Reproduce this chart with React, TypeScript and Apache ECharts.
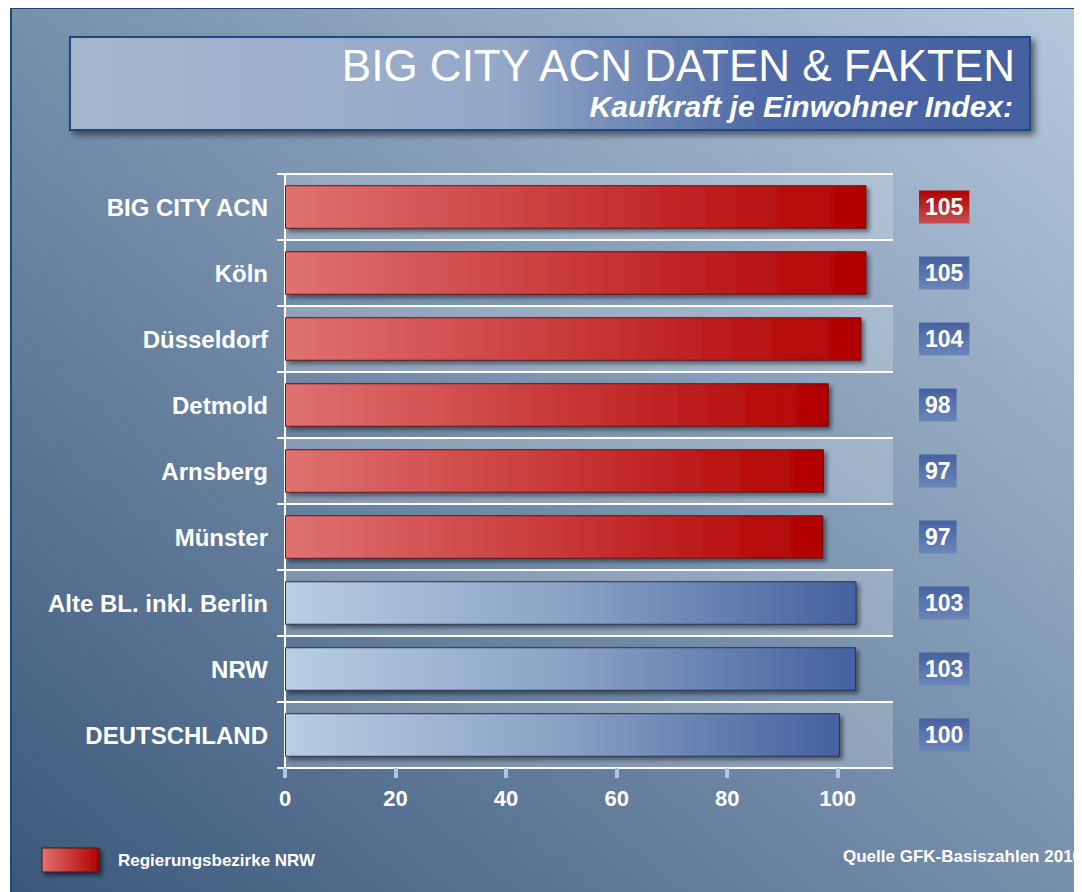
import React, { useEffect, useRef } from "react";
import * as echarts from "echarts";

const categories = [
  "BIG CITY ACN",
  "Köln",
  "Düsseldorf",
  "Detmold",
  "Arnsberg",
  "Münster",
  "Alte BL. inkl. Berlin",
  "NRW",
  "DEUTSCHLAND",
];
const values = [105.2, 105.2, 104.3, 98.4, 97.5, 97.4, 103.4, 103.3, 100.4];
const labels = [105, 105, 104, 98, 97, 97, 103, 103, 100];
const isNRW = [true, true, true, true, true, true, false, false, false];
const highlight = [true, false, false, false, false, false, false, false, false];
const xTicks = [0, 20, 40, 60, 80, 100];

const FONT = "'Liberation Sans', Arial, sans-serif";

export default function App() {
  const ref = useRef<HTMLDivElement>(null);
  useEffect(() => {
    if (!ref.current) return;
    const chart = echarts.init(ref.current, undefined, { renderer: "svg" });
    const LG = echarts.graphic.LinearGradient;
    const redBar = () =>
      new LG(0, 0, 1, 0, [
        { offset: 0, color: "#e07272" },
        { offset: 1, color: "#b10000" },
      ]);
    const blueBar = () =>
      new LG(0, 0, 1, 0, [
        { offset: 0, color: "#b9cde2" },
        { offset: 0.5, color: "#8aa1c5" },
        { offset: 1, color: "#4561a0" },
      ]);
    const redBox = () =>
      new LG(0, 0, 0, 1, [
        { offset: 0, color: "#b00000" },
        { offset: 1, color: "#c85050" },
      ]);
    const blueBox = () =>
      new LG(0, 0, 0, 1, [
        { offset: 0, color: "#4761a0" },
        { offset: 1, color: "#6b86ba" },
      ]);

    const data = values.map((v, i) => ({
      value: v,
      itemStyle: {
        color: isNRW[i] ? redBar() : blueBar(),
        borderColor: isNRW[i] ? "#5a1a1a" : "#2a3550",
      },
      label: {
        backgroundColor: highlight[i] ? redBox() : blueBox(),
      },
    }));

    chart.setOption({
      animation: false,
      backgroundColor: new LG(0, 1, 1, 0, [
        { offset: 0, color: "#3b587b" },
        { offset: 0.5, color: "#7890ac" },
        { offset: 1, color: "#b6c8dc" },
      ]),
      grid: { left: 275, right: 189, top: 167, bottom: 124, containLabel: false },
      xAxis: {
        type: "value",
        min: 0,
        max: 110,
        interval: 20,
        axisLine: { show: false },
        splitLine: { show: false },
        axisTick: {
          show: true,
          length: 10,
          customValues: xTicks,
          lineStyle: { color: "#a9c8f0", width: 4 },
        },
        axisLabel: {
          customValues: xTicks,
          color: "#ffffff",
          fontSize: 22,
          fontWeight: "bold",
          fontFamily: FONT,
          margin: 19,
        },
      },
      yAxis: {
        type: "category",
        data: categories,
        inverse: true,
        axisLine: { show: true, lineStyle: { color: "#ffffff", width: 2 } },
        axisTick: { show: true, length: 8, lineStyle: { color: "#ffffff", width: 2 } },
        splitLine: { show: true, lineStyle: { color: "#ffffff", width: 2 } },
        splitArea: {
          show: true,
          areaStyle: { color: ["rgba(255,255,255,0.2)", "rgba(255,255,255,0)"] },
        },
        axisLabel: {
          color: "#ffffff",
          fontSize: 24,
          fontWeight: "bold",
          fontFamily: FONT,
          margin: 17,
        },
      },
      series: [
        {
          type: "bar",
          data,
          barWidth: "66%",
          itemStyle: {
            borderWidth: 1,
            shadowColor: "rgba(0,0,0,0.45)",
            shadowBlur: 4,
            shadowOffsetX: 3,
            shadowOffsetY: 3,
          },
          label: {
            show: true,
            position: [634, "50%"],
            align: "left",
            verticalAlign: "middle",
            formatter: (p: any) => String(labels[p.dataIndex]),
            color: "#ffffff",
            fontSize: 23,
            fontWeight: "bold",
            fontFamily: FONT,
            padding: [6, 6, 4, 6],
          },
        },
      ],
      graphic: [
        {
          type: "line",
          shape: { x1: 1, y1: 0, x2: 1, y2: 885 },
          style: { stroke: "#1d4777", lineWidth: 2 },
          z: 100,
        },
        {
          type: "line",
          shape: { x1: 0, y1: 1, x2: 1072, y2: 1 },
          style: { stroke: "#1d4777", lineWidth: 2 },
          z: 100,
        },
        {
          type: "rect",
          shape: { x: 60, y: 30, width: 960, height: 93 },
          style: {
            fill: new LG(0, 0, 1, 0, [
              { offset: 0, color: "#a5b6ce" },
              { offset: 0.45, color: "#94a8c8" },
              { offset: 0.72, color: "#4f6aa6" },
              { offset: 1, color: "#4560a0" },
            ]),
            stroke: "#1f4a80",
            lineWidth: 2,
            shadowColor: "rgba(0,0,0,0.5)",
            shadowBlur: 6,
            shadowOffsetX: 4,
            shadowOffsetY: 4,
          },
          z: 10,
        },
        {
          type: "text",
          x: 1005,
          y: 80,
          style: {
            text: "BIG CITY ACN DATEN & FAKTEN",
            fill: "#ffffff",
            font: `normal 44px ${FONT}`,
            align: "right",
            verticalAlign: "bottom",
          },
          z: 11,
        },
        {
          type: "text",
          x: 1003,
          y: 114,
          style: {
            text: "Kaufkraft je Einwohner Index:",
            fill: "#ffffff",
            font: `italic bold 30px ${FONT}`,
            align: "right",
            verticalAlign: "bottom",
          },
          z: 11,
        },
        {
          type: "rect",
          shape: { x: 32, y: 841, width: 57, height: 24 },
          style: {
            fill: redBar(),
            stroke: "#3a1a1a",
            lineWidth: 1,
            shadowColor: "rgba(0,0,0,0.5)",
            shadowBlur: 4,
            shadowOffsetX: 3,
            shadowOffsetY: 3,
          },
          z: 10,
        },
        {
          type: "text",
          x: 108,
          y: 853,
          style: {
            text: "Regierungsbezirke NRW",
            fill: "#ffffff",
            font: `bold 17px ${FONT}`,
            align: "left",
            verticalAlign: "middle",
          },
          z: 11,
        },
        {
          type: "text",
          x: 833,
          y: 849,
          style: {
            text: "Quelle GFK-Basiszahlen 2010",
            fill: "#ffffff",
            font: `bold 17px ${FONT}`,
            align: "left",
            verticalAlign: "middle",
          },
          z: 11,
        },
      ],
    });
    return () => chart.dispose();
  }, []);
  return (
    <div
      ref={ref}
      style={{ width: 1072, height: 885, marginLeft: 2, marginTop: -1 }}
    />
  );
}
